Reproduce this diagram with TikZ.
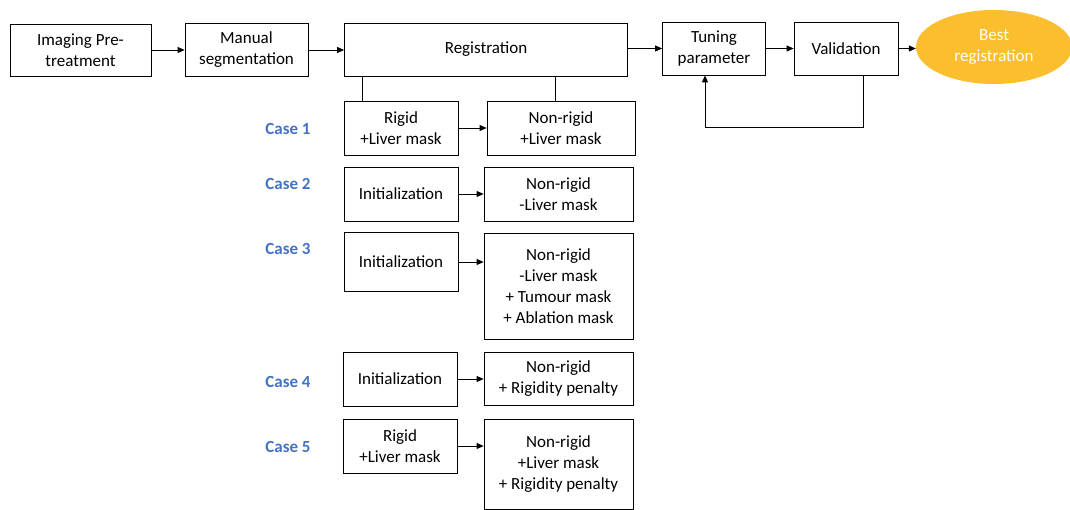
\documentclass[tikz,border=0pt]{standalone}
\usepackage{fontspec}
\setmainfont{Carlito}
\usetikzlibrary{arrows.meta,shapes.geometric}
\definecolor{caseblue}{RGB}{68,114,196}
\definecolor{bestfill}{RGB}{251,190,46}
\tikzset{
  box/.style={draw=black,line width=0.8pt,rectangle,align=center,inner sep=0pt,font=\fontsize{17}{21}\selectfont},
  arr/.style={line width=0.8pt,-{Triangle[length=7pt,width=6pt]}},
  conn/.style={line width=0.8pt},
  caselabel/.style={font=\fontsize{17}{20}\selectfont\bfseries,text=caseblue},
  bestnode/.style={ellipse,fill=bestfill,draw=none,align=center,text=white,inner sep=0pt,font=\fontsize{17}{21}\selectfont}
}
\begin{document}
\begin{tikzpicture}[x=1pt,y=-1pt]
\useasboundingbox (0,0) rectangle (1070,510);
% top row
\node[box,minimum width=141pt,minimum height=52pt] (img) at (80.5,50) {Imaging Pre-\\treatment};
\node[box,minimum width=123pt,minimum height=53pt] (man) at (246.5,50) {Manual\\segmentation};
\node[box,minimum width=283pt,minimum height=53pt] (reg) at (486,49.5) {Registration};
\node[box,minimum width=103pt,minimum height=53pt] (tun) at (714,48.5) {Tuning\\parameter};
\node[box,minimum width=104pt,minimum height=53pt] (val) at (846,48.5) {Validation};
\node[bestnode,minimum width=156pt,minimum height=74pt] (best) at (994,47) {Best\\registration};
\draw[arr] (img.east) -- (img.east -| man.west);
\draw[arr] (man.east) -- (man.east -| reg.west);
\draw[arr] (reg.east |- tun.west) -- (tun.west);
\draw[arr] (tun.east) -- (val.west);
\draw[arr] (val.east) -- (val.east -| best.west);
\coordinate (fb1) at (863,127);
\coordinate (fb2) at (705,127);
\draw[arr] (fb1 |- val.south) -- (fb1) -- (fb2) -- (fb2 |- tun.south);
% case labels
\node[caselabel] (c1) at (288,129) {Case 1};
\node[caselabel] (c2) at (288,184) {Case 2};
\node[caselabel] (c3) at (288,249) {Case 3};
\node[caselabel] (c4) at (288,382) {Case 4};
\node[caselabel] (c5) at (288,447) {Case 5};
% case 1
\node[box,minimum width=114pt,minimum height=54pt] (r1) at (401,128) {Rigid\\+Liver mask};
\node[box,minimum width=148pt,minimum height=54pt] (n1) at (561,128) {Non-rigid\\+Liver mask};
\draw[arr] (r1.east) -- (n1.west);
\coordinate (l1) at (362,101);
\coordinate (l2) at (555,101);
\draw[conn] (l1 |- reg.south) -- (l1);
\draw[conn] (l2 |- reg.south) -- (l2);
% case 2
\node[box,minimum width=114pt,minimum height=54pt] (i2) at (401,194) {Initialization};
\node[box,minimum width=149pt,minimum height=54pt] (n2) at (558.5,194) {Non-rigid\\-Liver mask};
\draw[arr] (i2.east) -- (n2.west);
% case 3
\node[box,minimum width=114pt,minimum height=59pt] (i3) at (401,262) {Initialization};
\node[box,minimum width=149pt,minimum height=106pt] (n3) at (558.5,286) {Non-rigid\\-Liver mask\\+ Tumour mask\\+ Ablation mask};
\draw[arr] (i3.east) -- (i3.east -| n3.west);
% case 4
\node[box,minimum width=114pt,minimum height=54pt] (i4) at (400,379) {Initialization};
\node[box,minimum width=149pt,minimum height=53pt] (n4) at (558.5,378.5) {Non-rigid\\+ Rigidity penalty};
\draw[arr] (i4.east) -- (i4.east -| n4.west);
% case 5
\node[box,minimum width=114pt,minimum height=54pt] (r5) at (400,446) {Rigid\\+Liver mask};
\node[box,minimum width=149pt,minimum height=90pt] (n5) at (558.5,464) {Non-rigid\\+Liver mask\\+ Rigidity penalty};
\draw[arr] (r5.east) -- (r5.east -| n5.west);
\end{tikzpicture}
\end{document}
